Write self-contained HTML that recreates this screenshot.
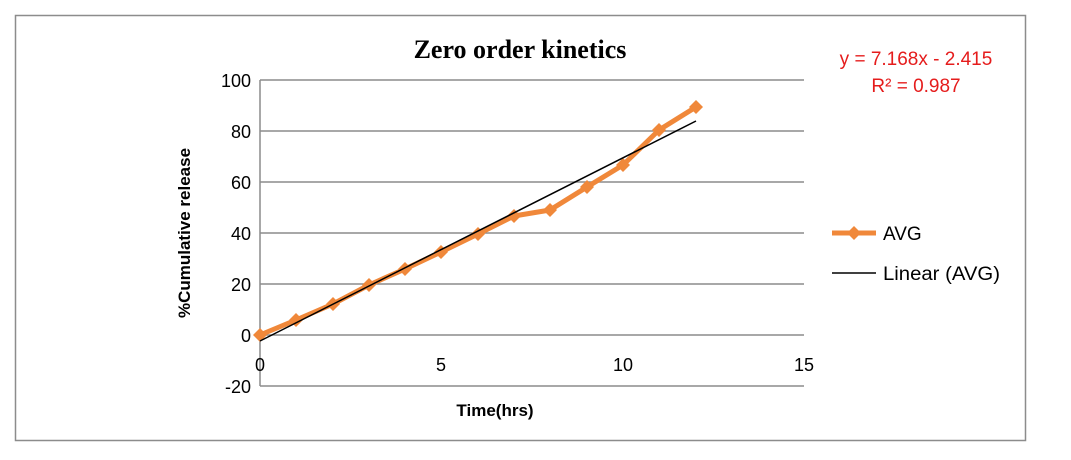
<!DOCTYPE html>
<html><head><style>body{margin:0;background:#fff}svg{display:block}</style></head><body>
<svg width="1071" height="460" xmlns="http://www.w3.org/2000/svg" font-family="Liberation Sans, sans-serif">
<rect x="15.5" y="15.5" width="1010" height="425" fill="#fff" stroke="#8c8c8c" stroke-width="1.5"/>
<g stroke="#8c8c8c" stroke-width="1.5">
<line x1="260" y1="80" x2="804" y2="80"/><line x1="260" y1="131" x2="804" y2="131"/><line x1="260" y1="182" x2="804" y2="182"/><line x1="260" y1="233" x2="804" y2="233"/><line x1="260" y1="284" x2="804" y2="284"/><line x1="260" y1="335" x2="804" y2="335"/><line x1="260" y1="386" x2="804" y2="386"/><line x1="260" y1="80" x2="260" y2="386"/>
</g>
<g font-size="18" fill="#000" text-anchor="end">
<text x="251" y="87">100</text><text x="251" y="138">80</text><text x="251" y="189">60</text><text x="251" y="240">40</text><text x="251" y="291">20</text><text x="251" y="342">0</text><text x="251" y="393">-20</text>
</g>
<g font-size="18" text-anchor="middle">
<text x="260" y="371">0</text><text x="441" y="371">5</text><text x="623" y="371">10</text><text x="804" y="371">15</text>
</g>
<text x="520" y="58" font-family="Liberation Serif, serif" font-weight="bold" font-size="26" text-anchor="middle">Zero order kinetics</text>
<text x="495" y="416" font-weight="bold" font-size="17" text-anchor="middle">Time(hrs)</text>
<text transform="translate(190,233) rotate(-90)" font-weight="bold" font-size="17" text-anchor="middle">%Cumulative release</text>
<g fill="#e51c1c" font-size="19" text-anchor="middle"><text x="916" y="65">y = 7.168x - 2.415</text><text x="916" y="92">R² = 0.987</text></g>
<polyline fill="none" stroke="#f0883a" stroke-width="5" stroke-linejoin="round" points="260,335 296,320 333,304 369,285 405,269 441,252 478,234 514,216 550,210 587,187 623,165 659,130 696,107"/>
<g fill="#f0883a">
<path d="M0,-7 L7,0 L0,7 L-7,0Z" transform="translate(260,335)"/>
<path d="M0,-7 L7,0 L0,7 L-7,0Z" transform="translate(296,320)"/>
<path d="M0,-7 L7,0 L0,7 L-7,0Z" transform="translate(333,304)"/>
<path d="M0,-7 L7,0 L0,7 L-7,0Z" transform="translate(369,285)"/>
<path d="M0,-7 L7,0 L0,7 L-7,0Z" transform="translate(405,269)"/>
<path d="M0,-7 L7,0 L0,7 L-7,0Z" transform="translate(441,252)"/>
<path d="M0,-7 L7,0 L0,7 L-7,0Z" transform="translate(478,234)"/>
<path d="M0,-7 L7,0 L0,7 L-7,0Z" transform="translate(514,216)"/>
<path d="M0,-7 L7,0 L0,7 L-7,0Z" transform="translate(550,210)"/>
<path d="M0,-7 L7,0 L0,7 L-7,0Z" transform="translate(587,187)"/>
<path d="M0,-7 L7,0 L0,7 L-7,0Z" transform="translate(623,165)"/>
<path d="M0,-7 L7,0 L0,7 L-7,0Z" transform="translate(659,130)"/>
<path d="M0,-7 L7,0 L0,7 L-7,0Z" transform="translate(696,107)"/>
</g>
<line x1="260" y1="341" x2="696" y2="121" stroke="#000" stroke-width="1.5"/>
<line x1="832" y1="233" x2="876" y2="233" stroke="#f0883a" stroke-width="5"/>
<path d="M0,-7 L7,0 L0,7 L-7,0Z" transform="translate(854,233)" fill="#f0883a"/>
<text x="883" y="240" font-size="19">AVG</text>
<line x1="832" y1="273" x2="876" y2="273" stroke="#000" stroke-width="1.5"/>
<text x="883" y="280" font-size="19" textLength="117" lengthAdjust="spacingAndGlyphs">Linear (AVG)</text>
</svg>
</body></html>
